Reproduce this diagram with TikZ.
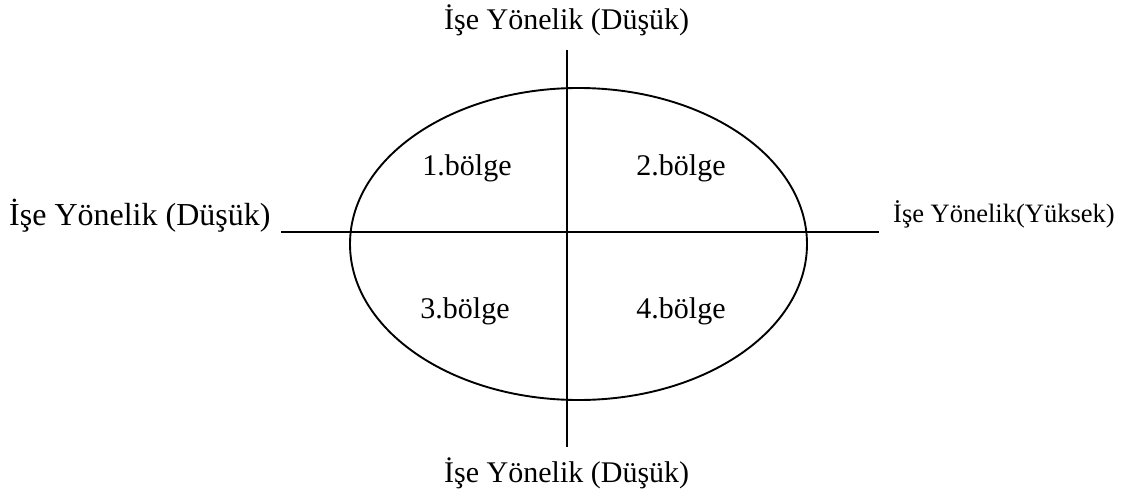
\documentclass[tikz,border=0pt]{standalone}
\usepackage{fontspec}
\setmainfont{Liberation Serif}
\usetikzlibrary{shapes.geometric}
\begin{document}
\begin{tikzpicture}[x=1pt,y=-1pt,
  lbl/.style={inner sep=0pt,anchor=base,font=\fontsize{30}{34}\selectfont},
  lblbig/.style={inner sep=0pt,anchor=base,font=\fontsize{32}{36}\selectfont},
  lblsmall/.style={inner sep=0pt,anchor=base,font=\fontsize{26.5}{30}\selectfont},
  axis/.style={line width=2pt},
  oval/.style={line width=1.9pt}]
\useasboundingbox (0,0) rectangle (1138,503);
\coordinate (xl) at (281,232.3);
\coordinate (xr) at (879,232.3);
\coordinate (yt) at (566.5,50);
\coordinate (yb) at (566.5,447);
\node[draw,oval,ellipse,minimum width=457,minimum height=312,inner sep=0pt] (e) at (578.5,244) {};
\draw[axis] (xl) -- (xr);
\draw[axis] (yt) -- (yb);
\node[lbl] (top) at (566.7,30) {İşe Yönelik (Düşük)};
\node[lbl] (bot) at (566.7,482) {İşe Yönelik (Düşük)};
\node[lblbig,anchor=base west] (left) at (9,225) {İşe Yönelik (Düşük)};
\node[lblsmall,anchor=base west] (right) at (893,222) {İşe Yönelik(Yüksek)};
\node[lbl] (b1) at (467,175) {1.bölge};
\node[lbl] (b2) at (681,175) {2.bölge};
\node[lbl] (b3) at (465,318) {3.bölge};
\node[lbl] (b4) at (681,318) {4.bölge};
\end{tikzpicture}
\end{document}
